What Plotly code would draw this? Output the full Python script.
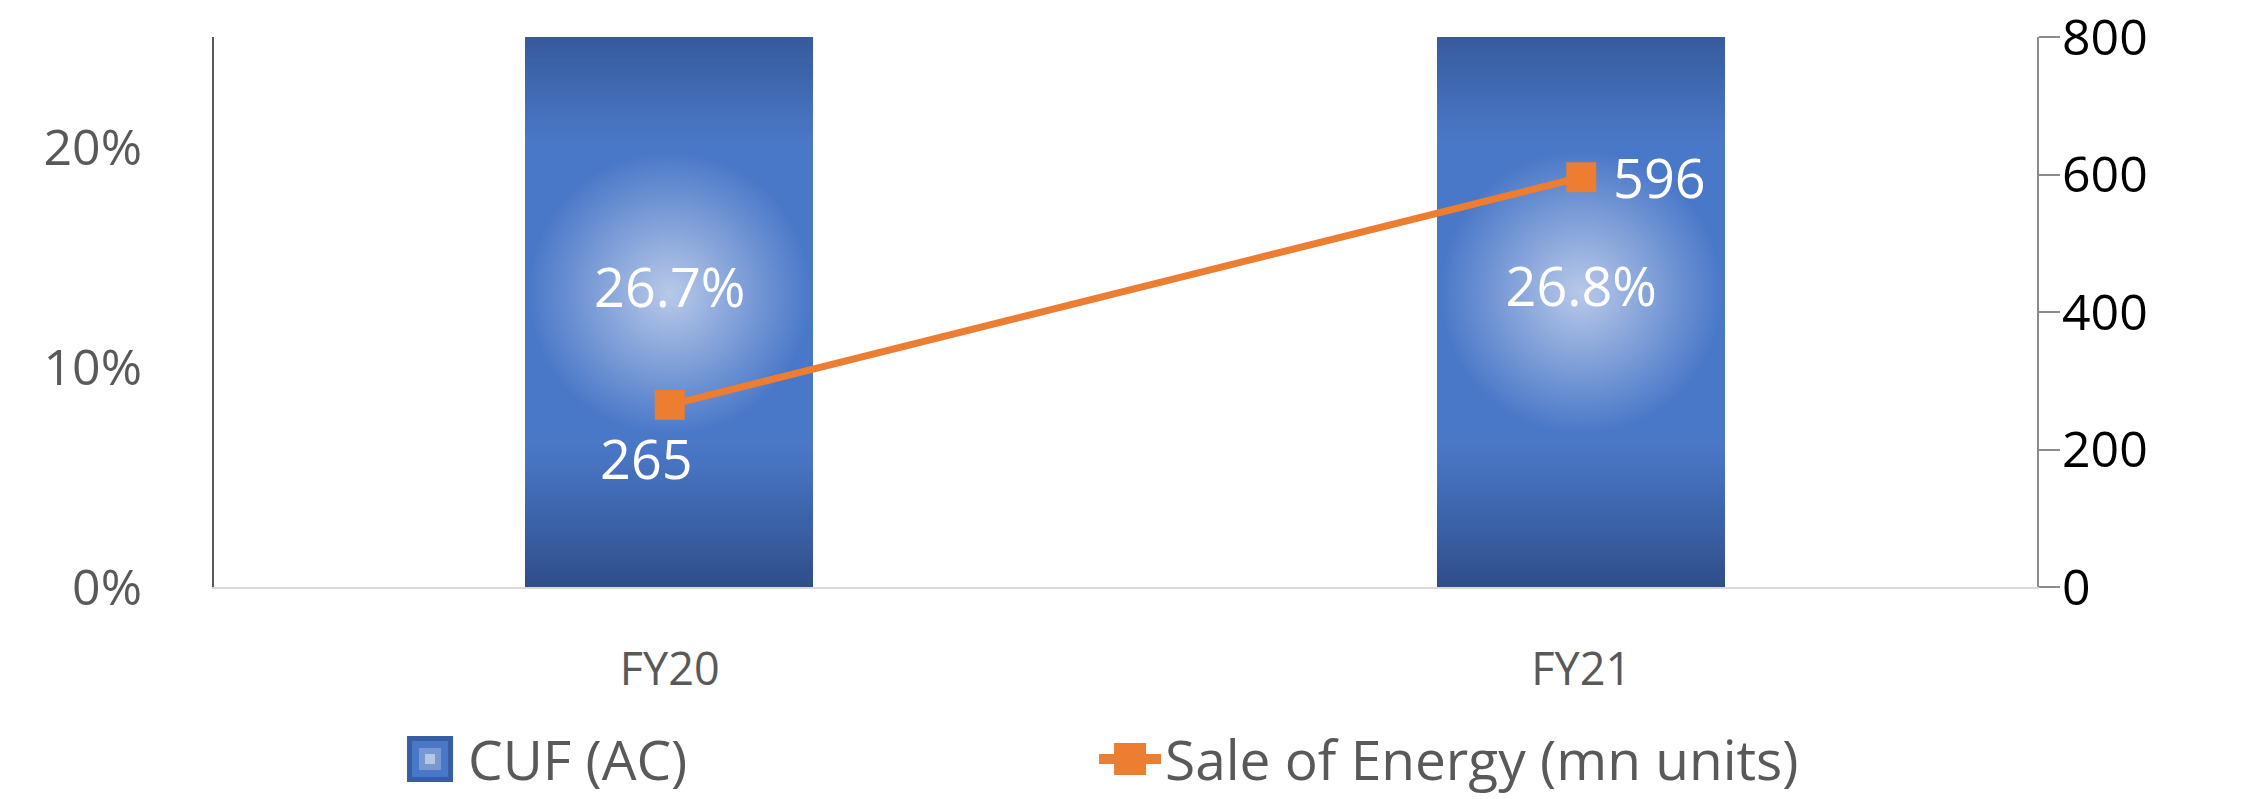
import plotly.graph_objects as go

categories = ["FY20", "FY21"]
cuf_values = [0.267, 0.268]
cuf_labels = ["26.7%", "26.8%"]
energy_values = [265, 596]
energy_labels = ["265", "596"]
series_names = ["CUF (AC)", "Sale of Energy (mn units)"]

FONT = "Open Sans"
N_SEG = 120
BAR_W = 0.315
ORANGE = "#ED7D31"
C_MID = (74, 120, 200)
C_END = (46, 78, 138)

def seg_color(t):
    # t: 0 at bar centre, 1 at bar end
    t = max(0.0, (t - 0.5) / 0.5) ** 1.1
    return "rgb(%d,%d,%d)" % tuple(round(a + (b - a) * t) for a, b in zip(C_MID, C_END))

fig = go.Figure()

# gradient-like bars: stacked slices of each bar value
for k in range(N_SEG):
    mid = (k + 0.5) / N_SEG
    t = abs(mid - 0.5) / 0.5
    col = seg_color(t)
    fig.add_trace(go.Bar(
        x=categories,
        y=[v / N_SEG for v in cuf_values],
        width=BAR_W,
        marker=dict(color=col, line=dict(width=1, color=col)),
        name=series_names[0],
        showlegend=False,
        hoverinfo="skip",
        yaxis="y",
    ))

# radial glow at the centre of each bar, carrying the CUF labels
fig.add_trace(go.Scatter(
    x=categories,
    y=[v / 2 for v in cuf_values],
    mode="markers+text",
    marker=dict(
        symbol="circle",
        size=282,
        color="rgb(%d,%d,%d)" % C_MID,
        gradient=dict(type="radial", color="rgb(184,201,233)"),
        line=dict(width=0),
    ),
    text=cuf_labels,
    textposition="middle center",
    textfont=dict(family=FONT, size=54, color="white"),
    showlegend=False,
    hoverinfo="skip",
    yaxis="y",
))

fig.add_trace(go.Scatter(
    x=categories,
    y=energy_values,
    mode="lines+markers",
    line=dict(color=ORANGE, width=7),
    marker=dict(symbol="square", size=30, color=ORANGE),
    name=series_names[1],
    showlegend=False,
    yaxis="y2",
))

# data labels for the line series
label_shift = [dict(xshift=-23, yshift=-53, xanchor="center"),
               dict(xshift=30, yshift=0, xanchor="left")]
annotations = []
for cat, val, lab, sh in zip(categories, energy_values, energy_labels, label_shift):
    annotations.append(dict(
        x=cat, y=val, xref="x", yref="y2", text=lab, showarrow=False,
        yanchor="middle", font=dict(family=FONT, size=54, color="white"), **sh))

# legend drawn below the chart
LEG_Y = -0.3127
annotations.append(dict(x=0.1382, y=LEG_Y, xref="paper", yref="paper", text=series_names[0],
                        showarrow=False, xanchor="left", yanchor="middle",
                        font=dict(family=FONT, size=55, color="#595959")))
annotations.append(dict(x=0.5206, y=LEG_Y, xref="paper", yref="paper", text=series_names[1],
                        showarrow=False, xanchor="left", yanchor="middle",
                        font=dict(family=FONT, size=55, color="#595959")))

def px_rect(xc, yc, half_w, half_h, color):
    return dict(type="rect", xref="paper", yref="paper", xsizemode="pixel", ysizemode="pixel",
                xanchor=xc, yanchor=yc, x0=-half_w, x1=half_w, y0=-half_h, y1=half_h,
                fillcolor=color, line=dict(width=0), layer="above")

shapes = [
    px_rect(0.1185, LEG_Y, 23, 23, "#375da3"),
    px_rect(0.1185, LEG_Y, 18, 18, "#4a78c8"),
    px_rect(0.1185, LEG_Y, 11, 11, "#7898d2"),
    px_rect(0.1185, LEG_Y, 5, 5, "#b4c7e7"),
    dict(type="line", xref="paper", yref="paper", x0=0.4855, x1=0.5195, y0=LEG_Y, y1=LEG_Y,
         line=dict(color=ORANGE, width=10), layer="above"),
    px_rect(0.5025, LEG_Y, 16, 16, ORANGE),
]

fig.update_layout(
    width=2241,
    height=791,
    barmode="stack",
    bargap=0,
    plot_bgcolor="white",
    paper_bgcolor="white",
    margin=dict(l=206, r=212, t=29, b=212, autoexpand=False),
    font=dict(family=FONT, color="#595959"),
    annotations=annotations,
    shapes=shapes,
    showlegend=False,
    xaxis=dict(
        type="category",
        automargin=False,
        showline=True,
        linecolor="#d9d9d9",
        linewidth=2,
        showgrid=False,
        ticks="",
        tickfont=dict(family=FONT, size=45, color="#595959"),
        ticklabelstandoff=42,
    ),
    yaxis=dict(
        range=[0, 0.25],
        automargin=False,
        dtick=0.1,
        tickformat=".0%",
        showgrid=False,
        zeroline=False,
        showline=True,
        linecolor="#595959",
        linewidth=2,
        ticks="",
        tickfont=dict(family=FONT, size=50, color="#595959"),
        ticklabelstandoff=60,
    ),
    yaxis2=dict(
        overlaying="y",
        side="right",
        automargin=False,
        range=[0, 800],
        tickvals=[0, 200, 400, 600, 800],
        ticklabeloverflow="allow",
        showgrid=False,
        zeroline=False,
        showline=True,
        linecolor="#8c8c8c",
        linewidth=2,
        ticks="outside",
        ticklen=21,
        tickcolor="#8c8c8c",
        tickwidth=2,
        tickfont=dict(family=FONT, size=50, color="black"),
        ticklabelstandoff=-8,
    ),
)

fig.write_html("out.html")
